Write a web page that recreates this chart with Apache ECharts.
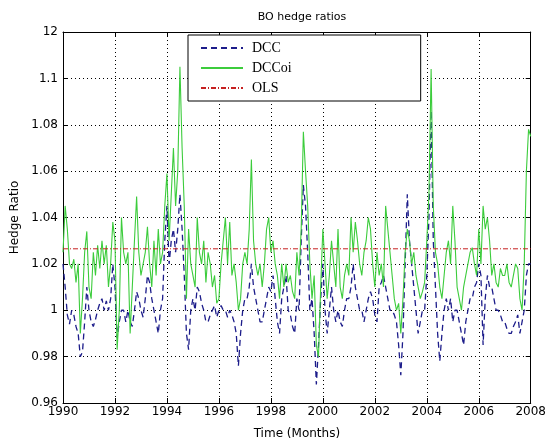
<!DOCTYPE html>
<html>
<head>
<meta charset="utf-8">
<script src="https://cdn.jsdelivr.net/npm/echarts@6/dist/echarts.min.js"></script>
<style>
html,body{margin:0;padding:0;background:#fff;}
#chart{width:549px;height:446px;}
</style>
</head>
<body>
<div id="chart"></div>
<script>
// Monthly hedge ratios, Jan 1990 .. Jan 2008
const dcc = [
  1.02, 1.01, 0.998, 0.994, 1.0, 0.998, 0.993, 0.99, 0.98, 0.982, 0.995, 1.01,
  1.0, 0.995, 0.993, 0.996, 1.0, 1.003, 1.005, 1.0, 1.004, 1.0, 1.005, 1.02,
  1.01, 0.988, 0.995, 1.0, 1.0, 0.995, 1.0, 0.995, 0.993, 1.0, 1.008, 1.005,
  1.0, 0.997, 1.005, 1.015, 1.012, 1.005, 1.0, 0.995, 0.99, 1.0, 1.005, 1.03,
  1.045, 1.02, 1.03, 1.035, 1.025, 1.035, 1.05, 1.035, 1.015, 0.99, 0.983, 1.0,
  1.005, 1.0, 1.01, 1.008, 1.003, 1.0, 0.995, 0.995, 0.998, 1.0, 1.002, 0.997,
  1.0, 1.002, 1.0, 1.0, 0.997, 1.0, 0.998, 0.995, 0.99, 0.976, 0.99, 1.0,
  1.005, 1.005, 1.01, 1.02, 1.01, 1.005, 1.0, 0.995, 0.995, 1.0, 1.005, 1.01,
  1.008, 1.015, 1.005, 0.995, 0.99, 1.005, 1.01, 1.015, 1.0, 0.998, 0.993, 0.99,
  1.005, 1.0, 1.03, 1.054, 1.045, 1.025, 1.0, 1.005, 0.99, 0.968, 0.985, 1.005,
  1.02, 1.0, 0.99, 1.0, 1.01, 1.0, 0.995, 1.0, 0.995, 0.993, 1.0, 1.005,
  1.005, 1.01, 1.02, 1.01, 1.005, 1.0, 1.0, 0.995, 1.0, 1.005, 1.008, 1.005,
  0.998, 0.995, 1.01, 1.012, 1.015, 1.01, 1.005, 1.0, 1.0, 0.998, 0.995, 0.985,
  0.972, 0.99, 1.02, 1.05, 1.03, 1.02, 1.01, 1.0, 0.99, 0.995, 1.0, 1.0,
  1.015, 1.04, 1.086, 1.03, 1.01, 0.99, 0.978, 0.99, 1.0, 1.005, 1.0, 1.005,
  0.995, 1.0, 1.0, 0.995, 0.99, 0.985, 0.995, 1.0, 1.005, 1.005, 1.01, 1.012,
  1.02, 1.015, 0.985, 1.005, 1.015, 1.01, 1.01, 1.005, 1.0, 1.0, 0.998, 0.995,
  0.995, 0.992, 0.99, 0.99, 0.993, 0.995, 0.998, 0.99, 0.995, 1.0, 1.015, 1.02,
  1.02
];
const dccoi = [
  1.025, 1.045, 1.035, 1.02, 1.018, 1.022, 1.012, 1.02, 0.99, 1.005, 1.025, 1.034,
  1.01, 1.005, 1.025, 1.015, 1.028, 1.018, 1.03, 1.02, 1.028, 1.01, 1.02, 1.038,
  1.03, 0.983, 1.0, 1.04, 1.025, 1.02, 1.025, 0.99, 1.01, 1.03, 1.049, 1.025,
  1.015, 1.02, 1.025, 1.036, 1.02, 1.01, 1.03, 1.015, 1.035, 1.02, 1.025, 1.045,
  1.059, 1.03, 1.05, 1.07, 1.045, 1.06, 1.105, 1.07, 1.045, 1.005, 1.035, 1.02,
  1.015, 1.01, 1.04, 1.025, 1.02, 1.03, 1.012, 1.025, 1.02, 1.01, 1.015, 1.003,
  1.005, 1.02, 1.03, 1.04, 1.02, 1.038, 1.015, 1.02, 1.012, 1.0, 1.005, 1.02,
  1.025, 1.02, 1.035, 1.065, 1.03, 1.02, 1.015, 1.02, 1.01, 1.02, 1.035, 1.04,
  1.025, 1.03, 1.02, 1.015, 1.005, 1.02, 1.01, 1.02, 1.012, 1.015, 1.008, 1.005,
  1.025, 1.015, 1.035, 1.077, 1.06, 1.045, 1.02, 1.005, 1.015, 0.985, 0.98, 1.01,
  1.035, 1.02, 1.005, 1.015, 1.03, 1.02, 1.01, 1.035, 1.01, 1.005, 1.015, 1.02,
  1.015, 1.04, 1.025, 1.038, 1.03, 1.02, 1.015, 1.025, 1.03, 1.04, 1.035, 1.02,
  1.01, 1.025, 1.015, 1.02, 1.01, 1.045, 1.035, 1.025, 1.015, 1.005, 1.0, 1.003,
  0.99, 1.005, 1.025, 1.035, 1.03, 1.02, 1.025, 1.015, 1.01, 1.005, 1.008, 1.012,
  1.03, 1.05, 1.104, 1.045, 1.025, 1.02, 1.01, 1.005, 1.015, 1.025, 1.03, 1.02,
  1.045, 1.03, 1.01, 1.005, 1.0, 1.01, 1.015, 1.02, 1.025, 1.027, 1.02, 1.015,
  1.035, 1.02, 1.045, 1.035, 1.04, 1.03, 1.015, 1.02, 1.012, 1.01, 1.018, 1.015,
  1.015, 1.02, 1.012, 1.01, 1.015, 1.02, 1.018, 1.005, 1.0, 1.02, 1.06, 1.078,
  1.075
];
const olsValue = 1.0265;
const startYear = 1990;
const endYear = 2008;
const xTickLabels = ['1990','1992','1994','1996','1998','2000','2002','2004','2006','2008'];
const yTickValues = [0.96, 0.98, 1.00, 1.02, 1.04, 1.06, 1.08, 1.10, 1.12];
const yTickLabels = ['0.96','0.98','1','1.02','1.04','1.06','1.08','1.1','12'];
const seriesNames = ['DCC', 'DCCoi', 'OLS'];

const monthX = i => startYear + i / 12;
const dccData = dcc.map((v, i) => [monthX(i), v]);
const dccoiData = dccoi.map((v, i) => [monthX(i), v]);
const olsData = [[startYear, olsValue], [endYear, olsValue]];

const FONT = 'DejaVu Sans';
const chart = echarts.init(document.getElementById('chart'), null, {renderer: 'canvas'});
const yFmt = v => {
  const idx = yTickValues.findIndex(t => Math.abs(t - v) < 1e-6);
  return idx >= 0 ? yTickLabels[idx] : '';
};
const xFmt = v => {
  const idx = Math.round((v - startYear) / 2);
  return xTickLabels[idx] || '';
};
chart.setOption({
  backgroundColor: '#fff',
  animation: false,
  title: {
    text: 'BO hedge ratios',
    left: 297, top: 7, textAlign: 'center',
    textStyle: {fontFamily: FONT, fontSize: 11, fontWeight: 'normal', color: '#000'}
  },
  legend: {
    orient: 'vertical',
    left: 188, top: 35,
    padding: [6, 129, 6, 12],
    itemWidth: 42, itemHeight: 14, itemGap: 6,
    borderColor: '#000', borderWidth: 1, backgroundColor: '#fff',
    itemStyle: {opacity: 0},
    data: seriesNames,
    textStyle: {fontFamily: 'Liberation Serif', fontSize: 14, color: '#000', padding: [0,0,0,4]}
  },
  grid: {left: 63, right: 18, top: 32, bottom: 43, show: false},
  xAxis: [{
    type: 'value', min: startYear, max: endYear, interval: 2,
    name: 'Time (Months)', nameLocation: 'middle', nameGap: 25,
    nameTextStyle: {fontFamily: FONT, fontSize: 12, color: '#000'},
    axisLine: {show: true, onZero: false, lineStyle: {color: '#000', width: 1}},
    axisTick: {show: true, inside: true, length: 5, lineStyle: {color: '#000'}},
    axisLabel: {formatter: xFmt, fontFamily: FONT, fontSize: 12, color: '#000', margin: 3},
    splitLine: {show: true, lineStyle: {color: '#000', type: [1, 3], width: 1}}
  }, {
    type: 'value', position: 'top', min: startYear, max: endYear, interval: 2,
    axisLine: {show: true, onZero: false, lineStyle: {color: '#000', width: 1}},
    axisTick: {show: true, inside: true, length: 5, lineStyle: {color: '#000'}},
    axisLabel: {show: false}, splitLine: {show: false}
  }],
  yAxis: [{
    type: 'value', min: 0.96, max: 1.12, interval: 0.02,
    name: 'Hedge Ratio', nameLocation: 'middle', nameGap: 42, nameRotate: 90,
    nameTextStyle: {fontFamily: FONT, fontSize: 12, color: '#000'},
    axisLine: {show: true, onZero: false, lineStyle: {color: '#000', width: 1}},
    axisTick: {show: true, inside: true, length: 5, lineStyle: {color: '#000'}},
    axisLabel: {formatter: yFmt, fontFamily: FONT, fontSize: 12, color: '#000', margin: 5},
    splitLine: {show: true, lineStyle: {color: '#000', type: [1, 3], width: 1}}
  }, {
    type: 'value', position: 'right', min: 0.96, max: 1.12, interval: 0.02,
    axisLine: {show: true, onZero: false, lineStyle: {color: '#000', width: 1}},
    axisTick: {show: true, inside: true, length: 5, lineStyle: {color: '#000'}},
    axisLabel: {show: false}, splitLine: {show: false}
  }],
  series: [{
    name: 'DCC', type: 'line', data: dccData, symbol: 'none',
    lineStyle: {color: '#1c1c8a', width: 1.3, type: [6, 4]},
    itemStyle: {color: '#1c1c8a'}
  }, {
    name: 'DCCoi', type: 'line', data: dccoiData, symbol: 'none',
    lineStyle: {color: '#3ccc3c', width: 1.1, type: 'solid'},
    itemStyle: {color: '#3ccc3c'}
  }, {
    name: 'OLS', type: 'line', data: olsData, symbol: 'none',
    lineStyle: {color: '#c62020', width: 1, type: [5, 2, 1, 2]},
    itemStyle: {color: '#c62020'}
  }]
});
</script>
</body>
</html>
